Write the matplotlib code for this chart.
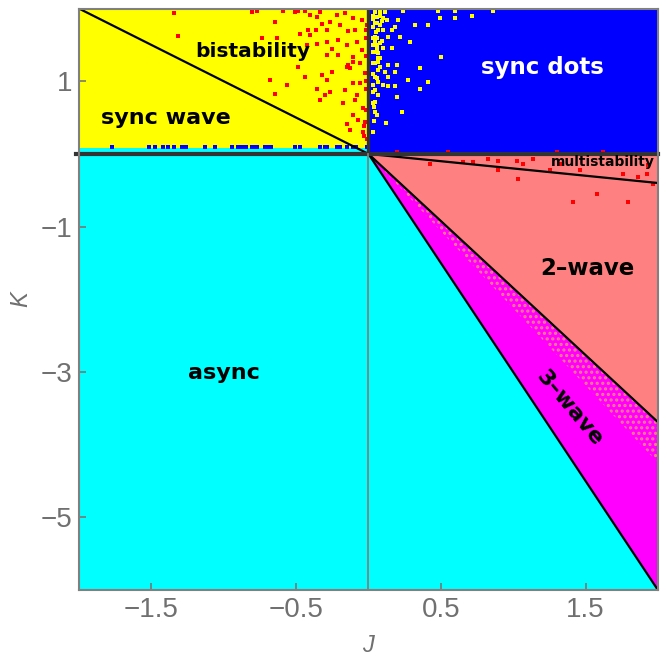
import numpy as np
import matplotlib
matplotlib.use('Agg')
import matplotlib.pyplot as plt

# region boundaries (K value reached at J = 2 for lines through the origin)
J_edge = [0.0, 2.0]
K_multi = [0.0, -0.40]
K_two = [0.0, -3.69]
K_mix = [0.0, -4.25]   # lower end of the speckled 2-wave / 3-wave zone
K_three = [0.0, -6.0]
J_bist = [-2.0, 0.0]
K_bist = [2.0, 0.0]

# scattered points
red_J = [-1.344, -1.316, -0.807, -0.773, -0.589, -0.508, -0.485, -0.439, -0.404, -0.358, -0.335,
         -0.266, -0.220, -0.162, -0.105, -0.047, -0.013, -0.646, -0.420, -0.404, -0.363, -0.324,
         -0.289, -0.197, -0.139, -0.093, -0.017, -0.738, -0.635, -0.427, -0.358, -0.289, -0.208,
         -0.151, -0.082, -0.047, -0.289, -0.208, -0.105, -0.485, -0.151, -0.105, -0.024, -0.255,
         -0.681, -0.566, -0.439, -0.324, -0.289, -0.358, -0.266, -0.162, -0.105, -0.059, -0.646,
         -0.301, -0.082, -0.174, -0.093, -0.335, -0.036, -0.105, -0.024, -0.070, -0.151, -0.128,
         -0.036, -0.013, -0.140, -0.130, -0.020, -0.030, -0.015, -0.015, -0.015, -0.015, -0.030,
         -0.060, -0.250, -0.470]
red_K = [1.938, 1.621, 1.947, 1.965, 1.965, 1.947, 1.965, 1.965, 1.910, 1.887, 1.947,
         1.818, 1.910, 1.933, 1.864, 1.841, 1.773, 1.818, 1.704, 1.635, 1.704, 1.782,
         1.704, 1.773, 1.690, 1.704, 1.589, 1.589, 1.589, 1.497, 1.506, 1.543, 1.566,
         1.497, 1.543, 1.428, 1.359, 1.359, 1.336, 1.199, 1.199, 1.268, 1.107, 1.130,
         1.015, 0.946, 1.061, 1.084, 1.015, 0.900, 0.854, 0.877, 0.969, 0.969, 0.831,
         0.808, 0.808, 0.694, 0.740, 0.740, 0.625, 0.533, 0.441, 0.464, 0.418, 0.326,
         0.303, 0.212, 1.220, 1.180, 1.000, 0.380, 1.700, 1.350, 0.900, 0.600, 0.250,
         1.250, 1.450, 1.650]

yel_J = [0.045, 0.080, 0.114, 0.057, 0.103, 0.126, 0.045, 0.080, 0.068, 0.103, 0.160, 0.183,
         0.206, 0.241, 0.321, 0.414, 0.483, 0.494, 0.598, 0.598, 0.713, 0.863, 0.045, 0.137,
         0.218, 0.045, 0.080, 0.057, 0.103, 0.160, 0.287, 0.068, 0.080, 0.045, 0.137, 0.195,
         0.356, 0.068, 0.114, 0.183, 0.045, 0.137, 0.068, 0.275, 0.414, 0.501, 0.103, 0.137,
         0.183, 0.045, 0.356, 0.068, 0.195, 0.045, 0.040, 0.045, 0.057, 0.234, 0.040, 0.119,
         0.057, 0.057, 0.068, 0.080, 0.050, 0.034, 0.034, 0.034, 0.034, 0.034, 0.034, 0.034,
         0.034, 0.034, 0.034, 0.034, 0.034, 0.057, 0.057, 0.057, 0.080, 0.091, 0.091, 0.068]
yel_K = [1.956, 1.956, 1.956, 1.887, 1.864, 1.841, 1.795, 1.773, 1.704, 1.704, 1.704, 1.750,
         1.841, 1.965, 1.773, 1.773, 1.965, 1.864, 1.965, 1.864, 1.901, 1.965, 1.612, 1.612,
         1.612, 1.543, 1.520, 1.451, 1.451, 1.451, 1.534, 1.382, 1.313, 1.245, 1.222, 1.222,
         1.176, 1.153, 1.130, 1.130, 1.061, 1.061, 0.992, 1.015, 0.983, 1.336, 0.946, 0.937,
         0.937, 0.877, 0.900, 0.808, 0.785, 0.717, 0.648, 0.579, 0.533, 0.570, 0.450, 0.432,
         1.589, 1.497, 1.313, 1.199, 1.681, 1.900, 1.750, 1.400, 1.100, 0.850, 0.700, 0.300,
         1.850, 1.600, 1.500, 1.250, 0.950, 1.800, 1.400, 1.050, 1.900, 1.830, 1.560, 1.270]

blue_J = [-1.772, -1.516, -1.475, -1.420, -1.385, -1.344, -1.288, -1.261, -1.130, -1.060,
          -0.943, -0.902, -0.846, -0.798, -0.674, -0.473, -0.301, -0.197, -0.086, -0.010,
          -0.876, -0.807, -0.773, -0.715, -0.692, -0.508, -0.335, -0.289, -0.220, -0.151, -0.105]
blue_K = [0.10] * len(blue_J)

multi_J = [0.425, 0.655, 0.724, 0.828, 0.897, 1.024, 1.070, 1.139, 0.897, 1.035, 1.254,
           1.323, 1.461, 1.576, 1.415, 1.795, 1.760, 1.864, 1.922, 1.968, 1.933, 0.20, 0.55,
           1.30, 1.62]
multi_K = [-0.142, -0.110, -0.110, -0.064, -0.096, -0.096, -0.133, -0.064, -0.224, -0.339,
           -0.224, -0.133, -0.224, -0.546, -0.661, -0.661, -0.270, -0.316, -0.270, -0.408,
           -0.156, 0.03, 0.03, 0.03, 0.03]

labels = ['bistability', 'sync wave', 'sync dots', 'multistability', '2\u2013wave', 'async', '3\u2013wave']
label_J = [-0.80, -1.40, 1.20, 1.62, 1.51, -1.00, 1.39]
label_K = [1.41, 0.50, 1.19, -0.11, -1.57, -3.01, -3.50]

xticks = [-1.5, -0.5, 0.5, 1.5]
yticks = [1, -1, -3, -5]

plt.rcParams['hatch.linewidth'] = 1.5

fig = plt.figure(figsize=(6.67, 6.58), dpi=100)
ax = fig.add_axes([0.1184, 0.1033, 0.868, 0.8837])
ax.set_xlim(-2, 2)
ax.set_ylim(-6, 2)

# background regions
ax.fill_between([-2, 2], -6, 0, color='#00ffff', lw=0)
ax.fill_between([-2, 0], 0, 2, color='#ffff00', lw=0)
ax.fill_between([-2, 0], 0, 0.085, color='#00ffff', lw=0)
ax.fill_between([0, 2], 0, 2, color='#0000ff', lw=0)
ax.fill_between(J_edge, K_three, K_two, color='#ff00ff', lw=0)
ax.fill_between(J_edge, K_mix, K_two, facecolor='#ff00ff', edgecolor='#ff8080', hatch='...', lw=0)
ax.fill_between(J_edge, K_two, 0, color='#ff8080', lw=0)

ms = 9
ax.scatter(red_J, red_K, s=ms, marker='s', color='#ff0000', lw=0, zorder=2)
ax.scatter(yel_J, yel_K, s=ms, marker='s', color='#ffff00', lw=0, zorder=2)
ax.scatter(blue_J, blue_K, s=ms, marker='s', color='#0000ff', lw=0, zorder=2)
ax.scatter(multi_J, multi_K, s=ms, marker='s', color='#ff0000', lw=0, zorder=2)

# boundaries
ax.plot(J_bist, K_bist, color='black', lw=1.6, zorder=3)
ax.plot(J_edge, K_multi, color='black', lw=1.6, zorder=3)
ax.plot(J_edge, K_two, color='black', lw=1.6, zorder=3)
ax.plot(J_edge, K_three, color='black', lw=1.6, zorder=3)
ax.plot([-2.02, 2], [0, 0], color='#333333', lw=3, zorder=4, clip_on=False)
ax.plot([0, 0], [0, 2], color='#333333', lw=2.4, zorder=4)
ax.plot([0, 0], [-6, 0], color='#808080', lw=1.3, zorder=4)

sizes = [14.5, 16, 16.5, 10, 16.5, 16, 16]
colors = ['black', 'black', 'white', 'black', 'black', 'black', 'black']
rots = [0, 0, 0, 0, 0, 0, -50]
for t, x, y, s, c, r in zip(labels, label_J, label_K, sizes, colors, rots):
    ax.text(x, y, t, fontsize=s, color=c, fontweight='bold', rotation=r,
            ha='center', va='center', family='DejaVu Sans', zorder=5)

tick_font = ['Liberation Sans', 'DejaVu Sans']
ax.set_xticks(xticks)
ax.set_xticklabels(['\u22121.5', '\u22120.5', '0.5', '1.5'], family=tick_font, fontsize=20, color='#707070')
ax.set_yticks(yticks)
ax.set_yticklabels(['1', '\u22121', '\u22123', '\u22125'], family=tick_font, fontsize=20, color='#707070')
ax.tick_params(direction='in', length=5, width=1.2, color='#777777', pad=5)
ax.set_xlabel('J', family=tick_font, style='italic', fontsize=17, color='#707070', labelpad=8)
ax.set_ylabel('K', family=tick_font, style='italic', fontsize=17, color='#707070', labelpad=6)
for sp in ax.spines.values():
    sp.set_color('#808080')
    sp.set_linewidth(1.5)
    sp.set_zorder(6)

fig.savefig('out.png', dpi=100)
